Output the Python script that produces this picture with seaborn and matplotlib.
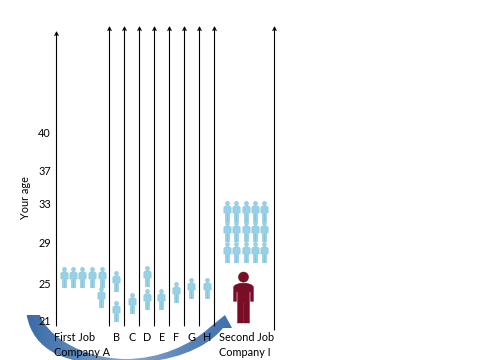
import numpy as np
import pandas as pd
import matplotlib
matplotlib.use("Agg")
import matplotlib.pyplot as plt
from matplotlib.path import Path
from matplotlib.patches import PathPatch
from matplotlib.colors import LinearSegmentedColormap
import seaborn as sns

# --- data ---
tick_levels = [0.02, 1.01, 2.1, 3.13, 4.0, 5.02]
tick_labels = ["21", "25", "29", "33", "37", "40"]
col_ticks = [82, 117, 132, 147, 162, 176.5, 192, 207, 247]
col_labels = ["First Job\nCompany A", "B", "C", "D", "E", "F", "G", "H", "Second Job\nCompany I"]
divider_x = [109.5, 124.5, 139.5, 154.5, 169.5, 184.5, 199.5, 214.5, 274.5]

people_x = [63.5, 73, 82, 92, 101.5, 101, 116, 116, 131.5, 146.5, 146.5, 161, 176, 191, 207,
            226.7, 236, 245.7, 255, 264, 226.7, 236, 245.7, 255, 264, 226.7, 236, 245.7, 255, 264]
people_age = [1.17, 1.17, 1.17, 1.17, 1.17, 0.64, 1.06, 0.27, 0.48, 1.2, 0.585, 0.585, 0.77, 0.88, 0.88,
              2.93, 2.93, 2.93, 2.93, 2.93, 2.39, 2.39, 2.39, 2.39, 2.39, 1.835, 1.835, 1.835, 1.835, 1.835]
you_x = [243]
you_age = [0.65]

sns.set_theme(style="white")
plt.rcParams["font.family"] = ["Lato", "DejaVu Sans"]

fig = plt.figure(figsize=(4.8, 3.6), dpi=100, facecolor="white")


def make_person(w, gap):
    """Person glyph: w is half the shoulder width, gap half the space between the legs."""
    leg = 0.6 * w
    body = [(-0.13, 0.56), (0.13, 0.56), (0.8 * w, 0.50), (w, 0.42), (w, -0.15), (0.7 * w, -0.15),
            (0.7 * w, 0.22), (leg, 0.22), (leg, -1), (gap, -1), (gap, -0.2), (-gap, -0.2),
            (-gap, -1), (-leg, -1), (-leg, 0.22), (-0.7 * w, 0.22), (-0.7 * w, -0.15), (-w, -0.15),
            (-w, 0.42), (-0.8 * w, 0.50), (-0.13, 0.56)]
    codes = [Path.MOVETO] + [Path.LINETO] * (len(body) - 2) + [Path.CLOSEPOLY]
    return Path.make_compound_path(Path.circle((0, 0.8), 0.2), Path(body, codes))


# curved transition arrow, underneath, in pixel units
ov = fig.add_axes([0, 0, 1, 1], zorder=1)
ov.set_xlim(0, 480)
ov.set_ylim(360, 0)
ov.axis("off")
verts = [(26.7, 315), (40, 315),
         (47, 335), (80, 358), (125, 359),
         (160, 359), (190, 345), (209, 328),
         (225, 315), (232, 328), (223, 328),
         (205, 350), (170, 362), (130, 363),
         (65, 368), (33, 350), (26.7, 315)]
cd = [Path.MOVETO, Path.LINETO,
      Path.CURVE4, Path.CURVE4, Path.CURVE4,
      Path.CURVE4, Path.CURVE4, Path.CURVE4,
      Path.LINETO, Path.LINETO, Path.LINETO,
      Path.CURVE4, Path.CURVE4, Path.CURVE4,
      Path.CURVE4, Path.CURVE4, Path.CURVE4]
arrow = PathPatch(Path(verts, cd), facecolor="none", edgecolor="none", transform=ov.transData)
ov.add_patch(arrow)
cmap = LinearSegmentedColormap.from_list("arc", ["#3a6aa5", "#5f88ba", "#8aa9cf", "#5f88ba", "#3f70ad"])
im = ov.imshow(np.linspace(0, 1, 256)[None, :], extent=(26, 232, 368, 314), cmap=cmap, aspect="auto")
im.set_clip_path(arrow)
ov.set_xlim(0, 480)
ov.set_ylim(360, 0)

# main axes on top
L, B = 56.5, 326
ax = fig.add_axes([L / 480, (360 - B) / 360, (480 - L) / 480, B / 360], zorder=2)
ax.patch.set_visible(False)
sns.despine(ax=ax, left=True, bottom=True, right=True, top=True)

sns.scatterplot(x=people_x, y=people_age, ax=ax, marker=make_person(0.36, 0.0), s=215, color="#96d1e5",
                edgecolor="#86c2da", linewidth=0.3, legend=False, clip_on=False, zorder=3)
sns.scatterplot(x=you_x, y=you_age, ax=ax, marker=make_person(0.39, 0.012), s=1350, color="#7a0d26",
                edgecolor="#6a0a20", linewidth=0.3, legend=False, clip_on=False, zorder=3)

ax.set_yticks(tick_levels, tick_labels)
ax.set_xticks(col_ticks, col_labels)
ax.set_xlim(L, 480)
ax.set_ylim(-5 / 37.6, 321 / 37.6)


def up_arrow(x, top, bottom):
    ax.annotate("", xy=(x, (321 - top) / 37.6), xytext=(x, (321 - bottom) / 37.6),
                arrowprops=dict(arrowstyle="->", color="black", lw=0.8, shrinkA=0, shrinkB=0,
                                mutation_scale=6), annotation_clip=False)


up_arrow(L, 31, 326)
for x in divider_x:
    up_arrow(x, 26, 330 if x > 270 else 326)

ax.tick_params(axis="both", length=0, labelsize=7.8, colors="black")
ax.tick_params(axis="y", pad=4)
ax.tick_params(axis="x", pad=4)
for t in ax.get_xticklabels():
    t.set_linespacing(1.5)
    t.set_multialignment("left")
ax.set_ylabel("Your age", fontsize=7.8, color="black", labelpad=0)
ax.yaxis.set_label_coords((31 - L) / (480 - L), (326 - 198) / 326)

fig.savefig("out.png", dpi=100, facecolor="white")
